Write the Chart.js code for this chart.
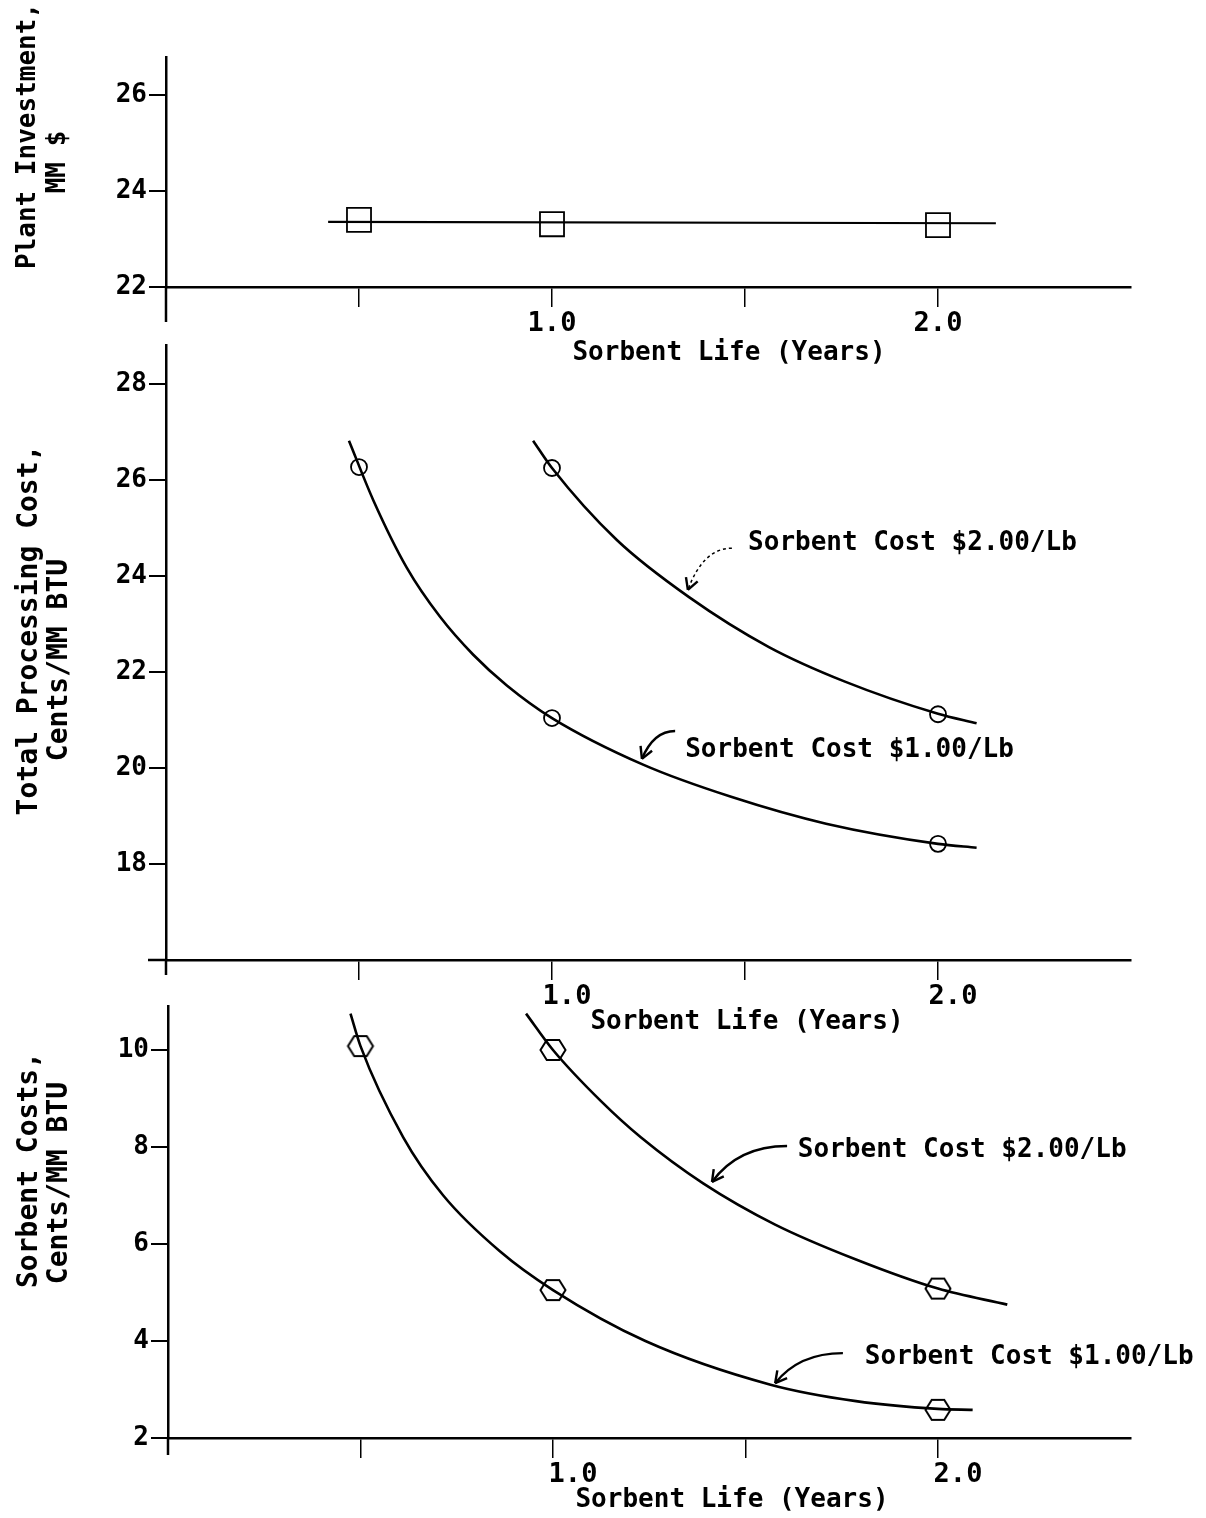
<!DOCTYPE html>
<html>
<head>
<meta charset="utf-8">
<script src="https://cdn.jsdelivr.net/npm/chart.js@4.4.0/dist/chart.umd.min.js"></script>
<style>
body { margin: 0; background: #fff; }
#wrap { position: relative; width: 1206px; height: 1518px; overflow: hidden; background: #fff; }
canvas { position: absolute; left: 0; }
</style>
</head>
<body>
<div id="wrap">
  <canvas id="c1" width="1206" height="380" style="top:0px"></canvas>
  <canvas id="c2" width="1206" height="740" style="top:310px"></canvas>
  <canvas id="c3" width="1206" height="548" style="top:970px"></canvas>
</div>
<script>
// shared x axis: sorbent life in years
const xTicks = [0.5, 1.0, 1.5, 2.0];
const xTickLabels = ['', '1.0', '', '2.0'];

// top panel: plant investment, MM $
const investTicks = [22, 24, 26];
const investX = [0.5, 1.0, 2.0];
const investPoints = [23.40, 23.31, 23.29];
const investLineX = [0.42, 2.15];
const investLineY = [23.36, 23.33];

// middle panel: total processing cost, cents/MM BTU
const procTicks = [18, 20, 22, 24, 26, 28];
const proc1X = [0.5, 1.0, 2.0];
const proc1Points = [26.27, 21.04, 18.42];
const proc2X = [1.0, 2.0];
const proc2Points = [26.25, 21.12];
const proc1CurveX = [0.474, 0.537, 0.624, 0.71, 0.796, 0.883, 1.0, 1.236, 1.464, 1.71, 2.0, 2.10];
const proc1CurveY = [26.82, 25.58, 24.17, 23.15, 22.36, 21.72, 21.04, 20.07, 19.40, 18.84, 18.42, 18.34];
const proc2CurveX = [0.951, 1.0, 1.168, 1.355, 1.562, 1.759, 2.0, 2.10];
const proc2CurveY = [26.82, 26.25, 24.75, 23.56, 22.52, 21.80, 21.13, 20.93];

// bottom panel: sorbent costs, cents/MM BTU
const sorbTicks = [2, 4, 6, 8, 10];
const sorb1X = [0.5, 1.0, 2.0];
const sorb1Points = [10.08, 5.05, 2.58];
const sorb2X = [1.0, 2.0];
const sorb2Points = [10.0, 5.08];
const sorb1CurveX = [0.474, 0.5, 0.611, 0.715, 0.862, 1.0, 1.24, 1.565, 1.787, 2.0, 2.09];
const sorb1CurveY = [10.75, 10.08, 8.20, 7.00, 5.85, 5.05, 4.00, 3.10, 2.76, 2.60, 2.58];
const sorb2CurveX = [0.93, 1.0, 1.124, 1.228, 1.39, 1.577, 1.787, 2.0, 2.18];
const sorb2CurveY = [10.75, 10.0, 8.95, 8.20, 7.25, 6.40, 5.68, 5.08, 4.75];

const FONT = '"DejaVu Sans Mono", "Liberation Mono", monospace';
const INK = '#000';

const pts = (xs, ys) => xs.map((x, i) => ({ x: x, y: ys[i] }));

// hexagon marker for the bottom panel
const hex = document.createElement('canvas');
hex.width = 30; hex.height = 28;
(function () {
  const g = hex.getContext('2d');
  g.strokeStyle = INK; g.lineWidth = 2;
  g.beginPath();
  for (let k = 0; k < 6; k++) {
    const a = k * Math.PI / 3;
    const px = 15 + 12.5 * Math.cos(a), py = 14 + 11.5 * Math.sin(a);
    k ? g.lineTo(px, py) : g.moveTo(px, py);
  }
  g.closePath(); g.stroke();
})();

function drawArrow(ctx, sx, sy, ex, ey, dashed) {
  const cx = ex + (sx - ex) * 0.35, cy = sy;
  ctx.save();
  ctx.strokeStyle = INK;
  ctx.lineWidth = dashed ? 1.5 : 2.4;
  ctx.setLineDash(dashed ? [3, 3] : []);
  ctx.beginPath();
  ctx.moveTo(sx, sy);
  ctx.quadraticCurveTo(cx, cy, ex, ey);
  ctx.stroke();
  ctx.setLineDash([]);
  ctx.lineWidth = 2.4;
  const ang = Math.atan2(ey - cy, ex - cx);
  [0.5, -0.5].forEach(d => {
    ctx.beginPath();
    ctx.moveTo(ex, ey);
    ctx.lineTo(ex - 13 * Math.cos(ang + d), ey - 13 * Math.sin(ang + d));
    ctx.stroke();
  });
  ctx.restore();
}

// titles, axis stubs and the curve callouts
function makeDecor(cfg) {
  return {
    id: 'decor',
    afterDraw(chart) {
      const ctx = chart.ctx;
      const a = chart.chartArea;
      const xs = chart.scales.x, ys = chart.scales.y;
      ctx.save();
      ctx.strokeStyle = INK;
      ctx.lineWidth = 2.5;
      ctx.beginPath();
      ctx.moveTo(a.left, a.bottom);
      ctx.lineTo(a.left, a.bottom + cfg.stubDown);
      if (cfg.stubLeft) {
        ctx.moveTo(a.left - cfg.stubLeft, a.bottom);
        ctx.lineTo(a.left, a.bottom);
      }
      ctx.stroke();

      ctx.fillStyle = INK;
      ctx.textBaseline = 'middle';
      ctx.textAlign = 'center';
      ctx.font = '600 26px ' + FONT;
      ctx.fillText(cfg.xTitle.text, cfg.xTitle.x, cfg.xTitle.y);

      cfg.yTitle.forEach(t => {
        ctx.save();
        ctx.translate(t.x, t.y);
        ctx.rotate(-Math.PI / 2);
        ctx.font = '600 ' + t.size + 'px ' + FONT;
        ctx.fillText(t.text, 0, 0);
        ctx.restore();
      });

      (cfg.notes || []).forEach(n => {
        ctx.font = '600 26px ' + FONT;
        ctx.textAlign = 'left';
        ctx.fillText(n.text, xs.getPixelForValue(n.tx), ys.getPixelForValue(n.ty));
        drawArrow(ctx, xs.getPixelForValue(n.sx), ys.getPixelForValue(n.sy),
          xs.getPixelForValue(n.ex), ys.getPixelForValue(n.ey), n.dashed);
      });
      ctx.restore();
    }
  };
}

function xScale(height, labelOffset) {
  return {
    type: 'linear', min: 0, max: 2.5,
    afterBuildTicks: s => { s.ticks = xTicks.map(v => ({ value: v })); },
    afterFit: s => { s.height = height; },
    ticks: {
      callback: (v, i) => xTickLabels[i],
      autoSkip: false, maxRotation: 0, padding: 1, labelOffset: labelOffset,
      color: INK, font: { family: FONT, size: 27, weight: '600' }
    },
    grid: { drawOnChartArea: false, drawTicks: true, tickLength: 20, color: INK, lineWidth: 1.5 },
    border: { display: true, color: INK, width: 2.5 }
  };
}

function yScale(min, max, tickValues, width) {
  return {
    type: 'linear', min: min, max: max,
    afterBuildTicks: s => { s.ticks = tickValues.map(v => ({ value: v })); },
    afterFit: s => { s.width = width; },
    ticks: { padding: 2, color: INK, font: { family: FONT, size: 26, weight: '600' } },
    grid: { drawOnChartArea: false, drawTicks: true, tickLength: 17, color: INK, lineWidth: 2 },
    border: { display: true, color: INK, width: 2.5 }
  };
}

function curve(xs, ys) {
  return {
    data: pts(xs, ys), borderColor: INK, borderWidth: 2.6, pointRadius: 0,
    cubicInterpolationMode: 'monotone', fill: false
  };
}

function marks(xs, ys, style, radius) {
  return {
    data: pts(xs, ys), showLine: false, pointStyle: style, pointRadius: radius,
    borderColor: INK, borderWidth: 1.8, backgroundColor: 'rgba(0,0,0,0)'
  };
}

const common = {
  responsive: false, animation: false, events: [],
  plugins: { legend: { display: false }, tooltip: { enabled: false } }
};

new Chart(document.getElementById('c1'), {
  type: 'line',
  plugins: [makeDecor({
    stubDown: 35,
    xTitle: { text: 'Sorbent Life (Years)', x: 729, y: 353 },
    yTitle: [
      { text: 'Plant Investment,', x: 28, y: 136, size: 26 },
      { text: 'MM $', x: 58, y: 162, size: 26 }
    ]
  })],
  data: {
    datasets: [
      { data: pts(investLineX, investLineY), borderColor: INK, borderWidth: 2.2, pointRadius: 0 },
      marks(investX, investPoints, 'rect', 17)
    ]
  },
  options: Object.assign({}, common, {
    layout: { padding: { top: 57, right: 75, bottom: 0, left: 0 } },
    scales: { x: xScale(93, 0), y: yScale(22, 26.8, investTicks, 166) }
  })
});

new Chart(document.getElementById('c2'), {
  type: 'line',
  plugins: [makeDecor({
    stubDown: 15, stubLeft: 18,
    xTitle: { text: 'Sorbent Life (Years)', x: 747, y: 712 },
    yTitle: [
      { text: 'Total Processing Cost,', x: 30, y: 320, size: 28 },
      { text: 'Cents/MM BTU', x: 60, y: 350, size: 28 }
    ],
    notes: [
      { text: 'Sorbent Cost $2.00/Lb', tx: 1.508, ty: 24.69, sx: 1.466, sy: 24.58, ex: 1.352, ey: 23.71, dashed: true },
      { text: 'Sorbent Cost $1.00/Lb', tx: 1.345, ty: 20.375, sx: 1.319, sy: 20.77, ex: 1.233, ey: 20.19 }
    ]
  })],
  data: {
    datasets: [
      curve(proc1CurveX, proc1CurveY),
      curve(proc2CurveX, proc2CurveY),
      marks(proc1X, proc1Points, 'circle', 8),
      marks(proc2X, proc2Points, 'circle', 8)
    ]
  },
  options: Object.assign({}, common, {
    layout: { padding: { top: 35.6, right: 75, bottom: 0, left: 0 } },
    scales: { x: xScale(90, 15), y: yScale(16, 28.8, procTicks, 166) }
  })
});

new Chart(document.getElementById('c3'), {
  type: 'line',
  plugins: [makeDecor({
    stubDown: 17,
    xTitle: { text: 'Sorbent Life (Years)', x: 732, y: 530 },
    yTitle: [
      { text: 'Sorbent Costs,', x: 30, y: 200, size: 28 },
      { text: 'Cents/MM BTU', x: 60, y: 213, size: 28 }
    ],
    notes: [
      { text: 'Sorbent Cost $2.00/Lb', tx: 1.636, ty: 7.94, sx: 1.608, sy: 8.02, ex: 1.413, ey: 7.28 },
      { text: 'Sorbent Cost $1.00/Lb', tx: 1.81, ty: 3.67, sx: 1.753, sy: 3.75, ex: 1.577, ey: 3.13 }
    ]
  })],
  data: {
    datasets: [
      curve(sorb1CurveX, sorb1CurveY),
      curve(sorb2CurveX, sorb2CurveY),
      marks(sorb1X, sorb1Points, hex, 14),
      marks(sorb2X, sorb2Points, hex, 14)
    ]
  },
  options: Object.assign({}, common, {
    layout: { padding: { top: 36.35, right: 75.5, bottom: 0, left: 0 } },
    scales: { x: xScale(80, 20), y: yScale(2, 10.9, sorbTicks, 168) }
  })
});
</script>
</body>
</html>
